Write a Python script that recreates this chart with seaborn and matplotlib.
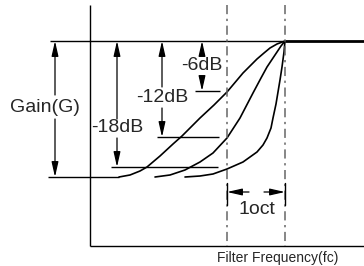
import numpy as np
import pandas as pd
import seaborn as sns
import matplotlib.pyplot as plt

# sketch units: pixels of the 364x266 picture, y grows downwards
fc_x = 285          # filter frequency
oct_x = 227         # one octave below fc
top_y = 41          # 0 dB level
base_y = 177        # bottom of the gain range

# slope curves
c6_x = [119, 130, 140, 147, 160, 173, 182, 200, 214, 227, 243, 257, 264, 270, 277, 285]
c6_y = [177, 175, 171, 167, 156, 144, 136, 118, 105, 92, 73, 59, 53, 48, 44, 41]
c12_x = [155, 170, 185, 200, 213, 227, 240, 253, 261, 267, 273, 277, 281, 285]
c12_y = [177, 175, 170, 162, 153, 138, 118, 93, 78, 67, 58, 52, 46, 41]
c18_x = [185, 200, 213, 227, 243, 257, 263, 267, 271, 273, 276, 278, 280, 282, 284, 285]
c18_y = [177, 176, 174, 169, 162, 152, 145, 138, 128, 118, 104, 92, 80, 67, 52, 41]

# level markers: label, arrow x, level y, marker line start, end, label y
levels = ["-6dB", "-12dB", "-18dB"]
level_x = [202, 162, 117]
level_y = [91, 137, 167]
mark_x0 = [195, 157, 111]
mark_x1 = [220, 219, 218]
label_y = [66, 97, 128]

curves = pd.concat([
    pd.DataFrame({"f": c6_x, "g": c6_y, "slope": "-6dB"}),
    pd.DataFrame({"f": c12_x, "g": c12_y, "slope": "-12dB"}),
    pd.DataFrame({"f": c18_x, "g": c18_y, "slope": "-18dB"}),
])

sns.set_theme(style="white")
plt.rcParams['font.family'] = ['Liberation Sans', 'DejaVu Sans']

fig = plt.figure(figsize=(3.64, 2.66), dpi=100)
ax = fig.add_axes([0, 0, 1, 1])
ax.set_xlim(0, 364)
ax.set_ylim(266, 0)
ax.axis('off')

sns.lineplot(data=curves, x="f", y="g", hue="slope", units="slope",
             estimator=None, sort=False, palette=["black"] * 3,
             linewidth=1.2, legend=False, ax=ax)

k = dict(color="black", lw=1.0, solid_capstyle="butt")
# axes box
ax.plot([90, 90], [5, 246], **k)
ax.plot([90, 364], [246, 246], **k)
# 0 dB line and flat pass band
ax.plot([50, fc_x], [top_y, top_y], **k)
ax.plot([fc_x, 364], [top_y, top_y], color="black", lw=2.0, solid_capstyle="butt")
ax.plot([48, c6_x[0]], [base_y, base_y], **k)

# dash-dot frequency markers
for xv in [oct_x, fc_x]:
    ax.plot([xv, xv], [5, 246], color="#666666", lw=1.1, linestyle=(0, (6, 3, 1.5, 3)))
    ax.plot([xv, xv], [183, 205], color="black", lw=1.0)

arrow = dict(arrowstyle="-|>,head_length=0.75,head_width=0.17", color="black",
             lw=0.9, shrinkA=0, shrinkB=0)

def double_arrow(x, y0, y1, gap0, gap1):
    ax.annotate("", xy=(x, y0), xytext=(x, gap0), arrowprops=arrow)
    ax.annotate("", xy=(x, y1), xytext=(x, gap1), arrowprops=arrow)

# Gain
double_arrow(55, top_y, base_y, 95, 119)
ax.text(45, 107, "Gain(G)", fontsize=14, ha="center", va="center")

gaps = [(55, 78), (87, 108), (119, 138)]
for lab, xv, yv, x0, x1, ly, (g0, g1) in zip(levels, level_x, level_y,
                                             mark_x0, mark_x1, label_y, gaps):
    ax.plot([x0, x1], [yv, yv], **k)
    double_arrow(xv, top_y, yv, g0, g1)
    ax.text(xv, ly, lab, fontsize=14, ha="center", va="center")

# one octave span
ax.annotate("", xy=(oct_x, 192), xytext=(249, 192), arrowprops=arrow)
ax.annotate("", xy=(fc_x, 192), xytext=(264, 192), arrowprops=arrow)
ax.text(257, 210, "1oct", fontsize=14, ha="center", va="center")

ax.text(278, 258, "Filter Frequency(fc)", fontsize=10, ha="center", va="center")

fig.savefig("out.png", dpi=100)
